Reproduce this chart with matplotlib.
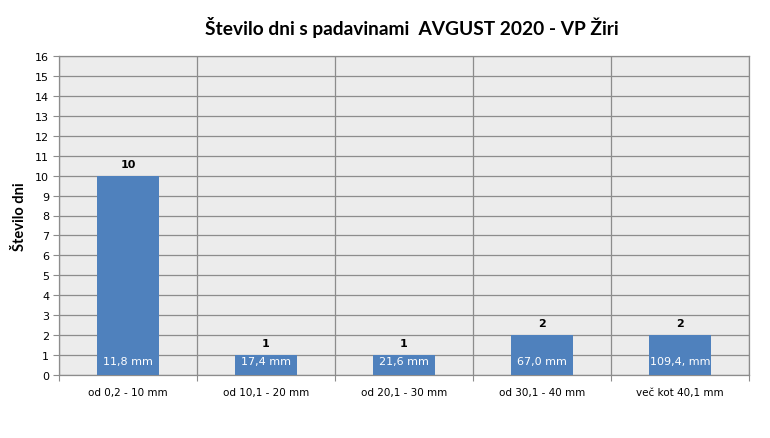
import numpy as np
import matplotlib
matplotlib.use("Agg")
from matplotlib import pyplot as plt

# data
categories = ["od 0,2 - 10 mm", "od 10,1 - 20 mm", "od 20,1 - 30 mm", "od 30,1 - 40 mm", "več kot 40,1 mm"]
days = [10, 1, 1, 2, 2]
amounts = ["11,8 mm", "17,4 mm", "21,6 mm", "67,0 mm", "109,4, mm"]
yticks = list(range(0, 17))

bar_color = "#4F81BD"
grid_color = "#8C8C8C"

fig = plt.figure(figsize=(7.7, 4.39), dpi=100)
ax = fig.add_axes([59 / 770, 63 / 439, 690 / 770, 319 / 439])
ax.set_facecolor("#ECECEC")

x = np.arange(len(categories))
ax.bar(x, days, width=0.45, color=bar_color, zorder=3)

ax.set_xlim(-0.5, len(categories) - 0.5)
ax.set_ylim(0, 16)
ax.set_yticks(yticks)
ax.set_yticklabels([str(t) for t in yticks], fontsize=8, family="DejaVu Sans")

# category boundaries as vertical grid lines
bounds = np.arange(len(categories) + 1) - 0.5
ax.set_xticks(bounds)
ax.set_xticklabels([])
ax.set_xticks(x, minor=True)
ax.set_xticklabels(categories, minor=True, fontsize=7.5, family="DejaVu Sans")
ax.tick_params(axis="x", which="minor", length=0, pad=9)
ax.tick_params(axis="x", which="major", length=4, color=grid_color)
ax.tick_params(axis="y", length=4, color=grid_color, pad=3)

ax.grid(True, which="major", color=grid_color, linewidth=0.9, zorder=0)
ax.set_axisbelow(True)
for s in ax.spines.values():
    s.set_color(grid_color)
    s.set_linewidth(0.9)

for xi, d, a in zip(x, days, amounts):
    ax.text(xi, d + 0.6, str(d), ha="center", va="center", fontsize=8,
            fontweight="bold", color="black", zorder=4)
    ax.text(xi, 0.7, a, ha="center", va="center", fontsize=8,
            color="white", family="DejaVu Sans", zorder=4)

ax.set_ylabel("Število dni", fontsize=10.5, fontweight="bold", family="Lato", labelpad=6)

fig.text(412 / 770, 1 - 27 / 439, "Število dni s padavinami  AVGUST 2020 - VP Žiri",
         ha="center", va="center", fontsize=13.8, fontweight="bold", family="Lato")

fig.savefig("out.png", dpi=100)
